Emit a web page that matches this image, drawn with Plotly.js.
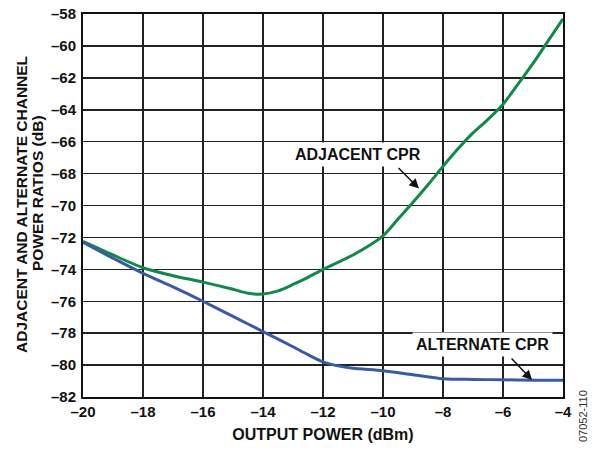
<!DOCTYPE html>
<html><head><meta charset="utf-8">
<script src="https://cdn.plot.ly/plotly-3.0.1.min.js"></script>
<style>body{margin:0;background:#fff}#c{width:602px;height:453px}</style>
</head><body><div id="c"></div>
<script>
const adjX = [-20, -19, -18, -17, -16, -15, -14.5, -14, -13.5, -13, -12.5, -12, -11, -10, -9.5, -9, -8.5, -8, -7.5, -7, -6.5, -6, -5.5, -5, -4.5, -4];
const adjY = [-72.25, -73.1, -73.9, -74.4, -74.8, -75.25, -75.5, -75.55, -75.35, -74.95, -74.5, -74.0, -73.1, -71.9, -70.85, -69.8, -68.7, -67.55, -66.45, -65.45, -64.6, -63.65, -62.4, -61.1, -59.7, -58.3];
const altX = [-20, -19, -18, -17, -16, -15, -14, -13, -12.5, -12, -11.5, -11, -10, -9, -8, -7, -6, -5, -4];
const altY = [-72.3, -73.3, -74.25, -75.1, -76.0, -76.95, -77.9, -78.85, -79.35, -79.8, -80.05, -80.2, -80.35, -80.6, -80.85, -80.9, -80.92, -80.95, -80.95];
const xTicks = [-20, -18, -16, -14, -12, -10, -8, -6, -4];
const yTicks = [-82, -80, -78, -76, -74, -72, -70, -68, -66, -64, -62, -60, -58];
const lbl = v => (v < 0 ? '\u2013' + Math.abs(v) : String(v));

const F = 'Liberation Sans, Arial, sans-serif';
const ML = 83, MR = 39, MT = 14, MB = 56, W = 602, H = 453;
const PW = W - ML - MR, PH = H - MT - MB;
const px = X => (X - ML) / PW;
const py = Y => (H - MB - Y) / PH;

const data = [
  {x: adjX, y: adjY, mode: 'lines', line: {color: '#12894a', width: 3, shape: 'spline', smoothing: 0.8}, hoverinfo: 'skip'},
  {x: altX, y: altY, mode: 'lines', line: {color: '#3a5ba3', width: 3, shape: 'spline', smoothing: 0.8}, hoverinfo: 'skip'}
];
const bf = s => ({family: F, size: s, color: '#111', weight: 'bold'});
const axBase = {showgrid: true, gridcolor: '#222', gridwidth: 1.5, zeroline: false,
  showline: true, linecolor: '#111', linewidth: 2, mirror: true, ticks: '',
  tickfont: bf(15)};
const layout = {
  width: W, height: H, showlegend: false,
  paper_bgcolor: '#fff', plot_bgcolor: '#fff',
  margin: {l: ML, r: MR, t: MT, b: MB},
  xaxis: Object.assign({}, axBase, {range: [-20, -4], tickvals: xTicks, ticktext: xTicks.map(lbl),
    title: {text: 'OUTPUT POWER (dBm)', font: bf(16), standoff: 10}}),
  yaxis: Object.assign({}, axBase, {range: [-82, -58], tickvals: yTicks, ticktext: yTicks.map(lbl), ticklabelstandoff: 2}),
  annotations: [
    {x: px(21), y: py(205), xref: 'paper', yref: 'paper', text: 'ADJACENT AND ALTERNATE CHANNEL', showarrow: false,
      textangle: -90, font: bf(15.5), xanchor: 'center', yanchor: 'middle'},
    {x: px(37), y: py(193), xref: 'paper', yref: 'paper', text: 'POWER RATIOS (dB)', showarrow: false,
      textangle: -90, font: bf(15.5), xanchor: 'center', yanchor: 'middle'},
    {x: -10.83, y: -66.8, xref: 'x', yref: 'y', text: 'ADJACENT CPR', showarrow: false, bgcolor: '#fff',
      font: bf(16), borderpad: 3},
    {x: -6.67, y: -78.7, xref: 'x', yref: 'y', text: 'ALTERNATE CPR', showarrow: false, bgcolor: '#fff',
      font: bf(16), borderpad: 3},
    {x: -8.8, y: -68.94, xref: 'x', yref: 'y', text: '', showarrow: true, arrowhead: 2, arrowsize: 1.3, arrowwidth: 1.5, arrowcolor: '#111', ax: -22, ay: -22},
    {x: -5.03, y: -80.94, xref: 'x', yref: 'y', text: '', showarrow: true, arrowhead: 2, arrowsize: 1.3, arrowwidth: 1.5, arrowcolor: '#111', ax: -22, ay: -23},
    {x: px(583), y: py(416), xref: 'paper', yref: 'paper', text: '07052-110', showarrow: false, textangle: -90,
      xanchor: 'center', yanchor: 'middle', font: {family: F, size: 11, color: '#333'}}
  ]
};
Plotly.newPlot('c', data, layout, {staticPlot: true, displayModeBar: false});
</script></body></html>
